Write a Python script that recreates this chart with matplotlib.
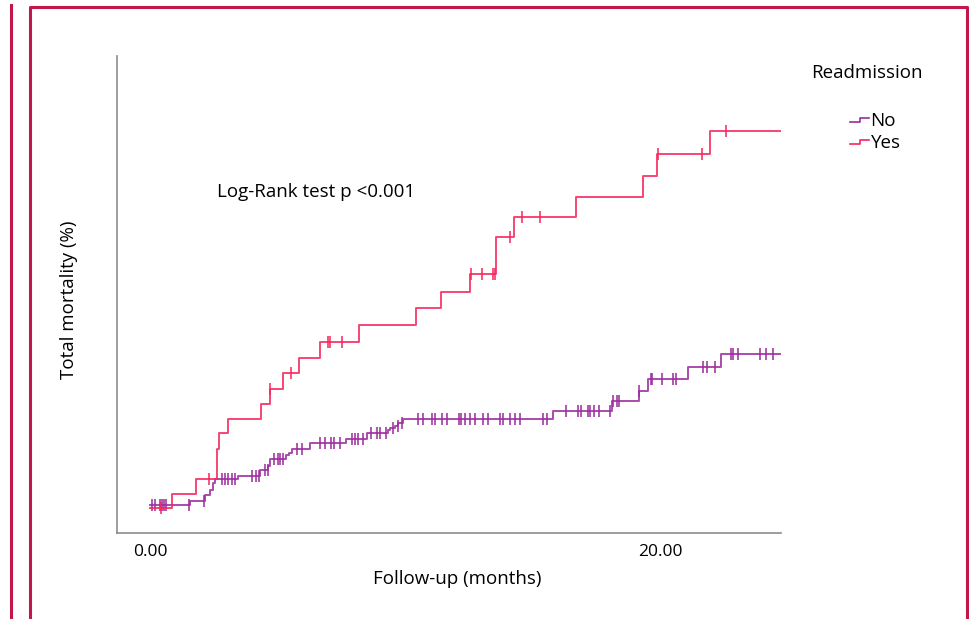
import matplotlib.pyplot as plt
import numpy as np
from matplotlib.legend_handler import HandlerBase
from matplotlib.lines import Line2D

# Kaplan-Meier cumulative mortality (months, %)
no_times = [0.0, 1.57, 2.16, 2.35, 2.47, 2.55, 3.45, 4.31, 4.63, 4.71, 5.33, 5.45, 5.57,
            6.27, 7.71, 8.50, 9.33, 9.41, 9.61, 9.74, 9.93, 15.82, 18.11, 19.19, 19.54,
            21.11, 22.39]
no_values = [0.35, 0.73, 1.3, 1.8, 2.47, 2.87, 3.23, 3.8, 4.2, 4.9, 5.3, 5.5, 5.95,
             6.5, 6.95, 7.55, 7.8, 7.97, 8.2, 8.47, 8.92, 9.73, 10.73, 11.73, 12.87,
             14.07, 15.37]
no_end = 24.75
no_censored = [0.07, 0.20, 0.39, 0.47, 0.55, 0.63, 1.53, 2.12, 2.82, 2.94, 3.06, 3.22,
               3.33, 3.99, 4.15, 4.27, 4.51, 4.62, 4.87, 5.01, 5.10, 5.23, 5.75, 5.95,
               6.67, 6.86, 7.10, 7.22, 7.45, 7.91, 8.04, 8.17, 8.36, 8.69, 8.89, 9.02,
               9.25, 9.53, 9.72, 9.87, 10.51, 10.71, 11.05, 11.18, 11.44, 11.66, 12.13,
               12.22, 12.35, 12.55, 12.75, 13.05, 13.27, 13.73, 13.83, 14.12, 14.31,
               14.51, 15.42, 15.56, 16.31, 16.80, 16.89, 17.19, 17.25, 17.41, 17.62,
               18.04, 18.17, 18.30, 18.40, 19.20, 19.67, 19.71, 20.07, 20.50, 20.65,
               21.70, 21.83, 22.16, 22.78, 22.87, 23.07, 23.92, 24.18, 24.44]

yes_times = [0.0, 0.86, 1.80, 2.63, 2.71, 3.06, 4.37, 4.70, 5.22, 5.84, 6.67, 8.20,
             10.42, 11.40, 12.55, 13.56, 14.29, 16.73, 19.35, 19.87, 21.96]
yes_values = [0.0, 1.37, 2.9, 5.9, 7.5, 8.87, 10.4, 11.95, 13.47, 15.03, 16.57, 18.3,
              20.03, 21.63, 23.37, 27.13, 29.07, 31.13, 33.23, 35.4, 37.73]
yes_end = 24.71
yes_censored = [0.42, 2.31, 4.72, 5.53, 6.97, 7.06, 7.52, 12.59, 13.03, 13.46, 13.53,
                14.12, 14.58, 15.29, 19.93, 21.64, 22.58]

groups = ['No', 'Yes']
colors = {'No': '#9a2c9c', 'Yes': '#f6255c'}
frame_color = '#c2174b'

plt.rcParams['font.family'] = ['Open Sans', 'DejaVu Sans']


class StepHandler(HandlerBase):
    """Draw the little step shape used in SPSS survival legends"""
    def create_artists(self, legend, orig_handle, xdescent, ydescent, width, height,
                       fontsize, trans):
        xs = np.array([0.0, 0.55, 0.55, 1.0]) * width - xdescent
        ys = np.array([0.3, 0.3, 0.62, 0.62]) * height - ydescent
        line = Line2D(xs, ys, color=orig_handle.get_color(), lw=1.2)
        line.set_transform(trans)
        return [line]


def censor_levels(times, values, censored):
    idx = np.searchsorted(times, censored, side='right') - 1
    return np.array(values)[idx]


fig = plt.figure(figsize=(9.69, 6.19), dpi=100)
ax = fig.add_axes([117 / 969, 1 - 533 / 619, 664 / 969, 477 / 619])

series = {
    'No': (no_times, no_values, no_end, no_censored),
    'Yes': (yes_times, yes_values, yes_end, yes_censored),
}
handles = []
for g in groups:
    t, v, end, cens = series[g]
    line, = ax.step(list(t) + [end], list(v) + [v[-1]], where='post',
                    color=colors[g], lw=1.4, alpha=0.85, label=g)
    ax.plot(cens, censor_levels(t, v, cens), ls='none', marker='|',
            markersize=9, mew=1.3, color=colors[g], alpha=0.85)
    handles.append(line)

ax.set_xlim(-1.29, 24.75)
ax.set_ylim(-2.5, 45.2)
ax.set_xticks([0, 20])
ax.set_xticklabels(['0.00', '20.00'], fontsize=12.5)
ax.set_yticks([])
ax.tick_params(axis='x', length=0, pad=8)
for side in ['top', 'right']:
    ax.spines[side].set_visible(False)
for side in ['left', 'bottom']:
    ax.spines[side].set_color('#8c8c8c')
    ax.spines[side].set_linewidth(1.2)

ax.set_xlabel('Follow-up (months)', fontsize=13.5)
ax.xaxis.set_label_coords(0.512, -0.077)
ax.set_ylabel('Total mortality (%)', fontsize=13.5)
ax.yaxis.set_label_coords(-0.058, 0.49)

ax.text(0.1506, 0.704, 'Log-Rank test p <0.001', transform=ax.transAxes,
        fontsize=13.5, va='baseline', ha='left')

fig.text(867 / 969, 1 - 73 / 619, 'Readmission', fontsize=13.5, ha='center', va='center')
ax.legend(handles=handles, labels=groups, handler_map={Line2D: StepHandler()},
          loc='upper left', bbox_to_anchor=(850 / 969, 1 - 112 / 619),
          bbox_transform=fig.transFigure, frameon=False, fontsize=13.5,
          handlelength=1.0, handletextpad=0.1, labelspacing=0.2, borderpad=0,
          borderaxespad=0)

# page frame around the figure
fig.add_artist(Line2D([10.5 / 969, 10.5 / 969], [0, 1 - 5 / 619], color=frame_color,
                      lw=2.2, transform=fig.transFigure))
fig.add_artist(Line2D([29.5 / 969, 29.5 / 969, 967 / 969, 967 / 969],
                      [0, 1 - 6.5 / 619, 1 - 6.5 / 619, 0], color=frame_color,
                      lw=2.2, transform=fig.transFigure))

fig.savefig('out.png', dpi=100)
